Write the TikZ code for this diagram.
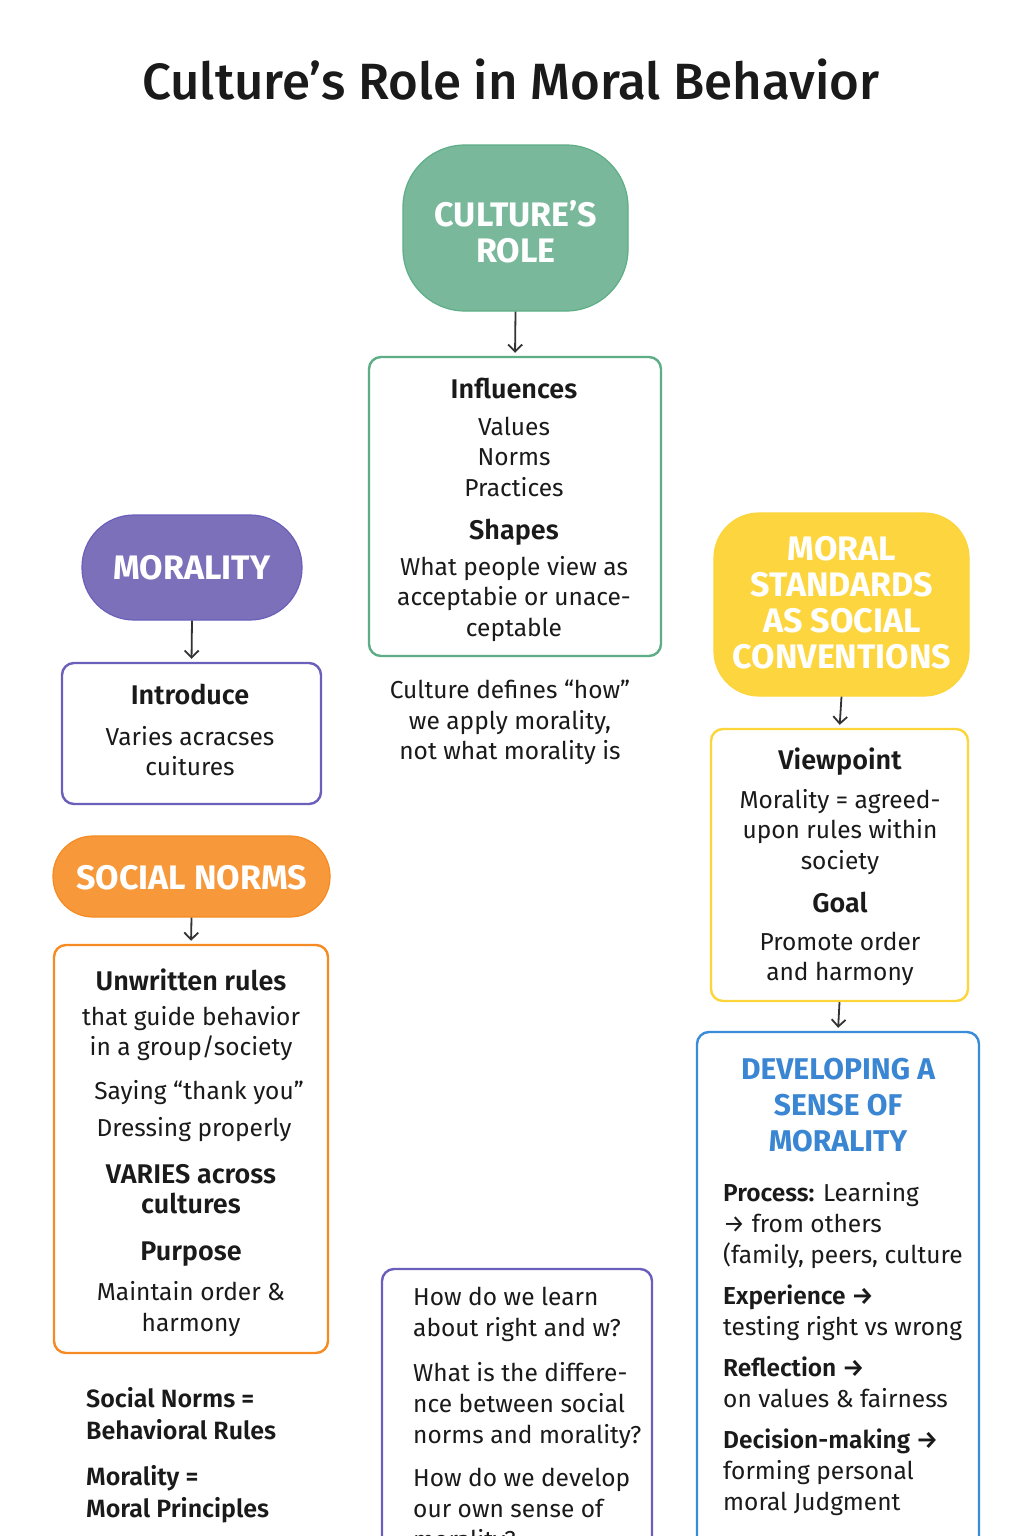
\documentclass[tikz,border=0pt]{standalone}
\usepackage{fontspec}
\setmainfont{Fira Sans}[BoldFont={Fira Sans SemiBold}]
\newfontfamily\pillfont{Fira Sans}
\newfontfamily\titlefont{Fira Sans Medium}
\usetikzlibrary{arrows.meta}

\definecolor{greenfill}{HTML}{7AB89C}
\definecolor{greenline}{HTML}{5DAE86}
\definecolor{purplefill}{HTML}{7B70B9}
\definecolor{purpleline}{HTML}{6A60BC}
\definecolor{orangefill}{HTML}{F7983A}
\definecolor{orangeline}{HTML}{F58B22}
\definecolor{yellowfill}{HTML}{FDD63F}
\definecolor{yellowline}{HTML}{FCD53A}
\definecolor{blueline}{HTML}{3B8CD8}
\definecolor{bluetext}{HTML}{3A86D2}
\definecolor{ink}{HTML}{1A1A1A}
\definecolor{arrowink}{HTML}{333333}

\newcommand\hdr[1]{{\fontsize{27}{31}\selectfont\bfseries #1}}

\tikzset{
  pill/.style={draw, line width=1.2pt, inner sep=0},
  card/.style={draw, fill=white, line width=2.4pt, rounded corners=12, inner sep=0},
  pilltext/.style={text=white, font=\pillfont\fontsize{34}{36}\selectfont\bfseries, align=center, inner sep=0},
  body/.style={text=ink, font=\fontsize{24.5}{30.5}\selectfont, align=center, inner sep=0},
  bodyleft/.style={text=ink, font=\fontsize{24.5}{31}\selectfont, align=left, inner sep=0},
  flow/.style={draw=arrowink, line width=1.8pt, shorten >=3pt, -{Straight Barb[length=7pt,width=14pt,line width=1.8pt]}}
}

\begin{document}
\begin{tikzpicture}[x=1pt,y=-1pt]
\useasboundingbox (0,0) rectangle (1024,1536);
\clip (0,0) rectangle (1024,1536);
\fill[white] (0,0) rectangle (1024,1536);

% heading
\node[text=ink, font=\titlefont\fontsize{51}{56}\selectfont, inner sep=0] (title) at (511,80) {Culture’s Role in Moral Behavior};

% ---- centre column
\node[pill, fill=greenfill, draw=greenline, minimum width=225, minimum height=166, rounded corners=62] (culture) at (515.5,228) {};
\node[pilltext] (culturetxt) at (516,232) {CULTURE’S\\ROLE};

\node[card, draw=greenline, minimum width=292, minimum height=299] (influence) at (515,506.5) {};
\node[body, anchor=north] (influencetxt) at (514,378) {\hdr{Influences}\\[6pt] Values\\ Norms\\ Practices\\[13pt] \hdr{Shapes}\\[5pt] What people view as\\ acceptabie or unace-\\ ceptable};

\node[body, anchor=north] (note) at (510,680) {Culture defines “how”\\ we apply morality,\\ not what morality is};

\node[card, draw=purpleline, minimum width=270, minimum height=300] (questions) at (517,1419) {};
\node[bodyleft, anchor=north west] (questionstxt) at (413,1287) {How do we learn\\ about right and w?\\[14pt] What is the differe-\\ nce between social\\ norms and morality?\\[12pt] How do we develop\\ our own sense of\\ morality?};

% ---- left column
\node[pill, fill=purplefill, draw=purpleline, minimum width=220, minimum height=105, rounded corners=52] (morality) at (192,567.5) {};
\node[pilltext] (moralitytxt) at (192,568) {MORALITY};

\node[card, draw=purpleline, minimum width=259, minimum height=141] (introduce) at (191.5,733.5) {};
\node[body, anchor=north] (introducetxt) at (190,684) {\hdr{Introduce}\\[10pt] Varies acracses\\ cuitures};

\node[pill, fill=orangefill, draw=orangeline, minimum width=277, minimum height=81, rounded corners=40] (social) at (191.5,876.5) {};
\node[pilltext] (socialtxt) at (191.5,878) {SOCIAL NORMS};

\node[card, draw=orangeline, minimum width=274, minimum height=408] (unwritten) at (191,1149) {};
\node[body, anchor=north] (unwrittentxt) at (191,969) {\hdr{Unwritten rules}\\[4pt] that guide behavior\\ in a group/society\\[13pt] \hspace*{16pt}Saying “thank you”\\[7pt] \hspace*{6pt}Dressing properly\\[16pt] \hdr{VARIES across}\\ \hdr{cultures}\\[16pt] \hdr{Purpose}\\[10pt] Maintain order \&\\ harmony};

\node[anchor=north west, text=ink, font=\fontsize{25}{32}\selectfont\bfseries, align=left, inner sep=0] (summary) at (86,1387) {Social Norms =\\ Behavioral Rules\\[14pt] Morality =\\ Moral Principles};

% ---- right column
\node[pill, fill=yellowfill, draw=yellowline, minimum width=255, minimum height=183, rounded corners=45] (standards) at (841.5,604.5) {};
\node[pilltext] (standardstxt) at (842,603) {MORAL\\ STANDARDS\\ AS SOCIAL\\ CONVENTIONS};

\node[card, draw=yellowline, minimum width=257, minimum height=272] (viewpoint) at (839.5,865) {};
\node[body, anchor=north] (viewpointtxt) at (840,748) {\hdr{Viewpoint}\\[8pt] Morality = agreed-\\ upon rules within\\ society\\[13pt] \hdr{Goal}\\[7pt] Promote order\\ and harmony};

\node[card, draw=blueline, minimum width=282, minimum height=530] (developing) at (838,1297) {};
\node[text=bluetext, font=\pillfont\fontsize{30}{36}\selectfont\bfseries, align=center, inner sep=0, anchor=north] (developingtitle) at (838,1058) {DEVELOPING A\\ SENSE OF\\ MORALITY};
\node[bodyleft, anchor=north west] (developingtxt) at (723,1182) {{\bfseries Process:} Learning\\ → from others\\ (family, peers, culture\\[10pt] {\bfseries Experience →}\\ testing right vs wrong\\[10pt] {\bfseries Reflection →}\\ on values \& fairness\\[10pt] {\bfseries Decision-making →}\\ forming personal\\ moral Judgment};

% ---- connectors
\draw[flow] (culture.south) -- (influence.north);
\draw[flow] (morality.south) -- (introduce.north);
\draw[flow] (social.south) -- (unwritten.north);
\draw[flow] (standards.south) -- (viewpoint.north);
\draw[flow] (viewpoint.south) -- (developing.north);
\end{tikzpicture}
\end{document}
